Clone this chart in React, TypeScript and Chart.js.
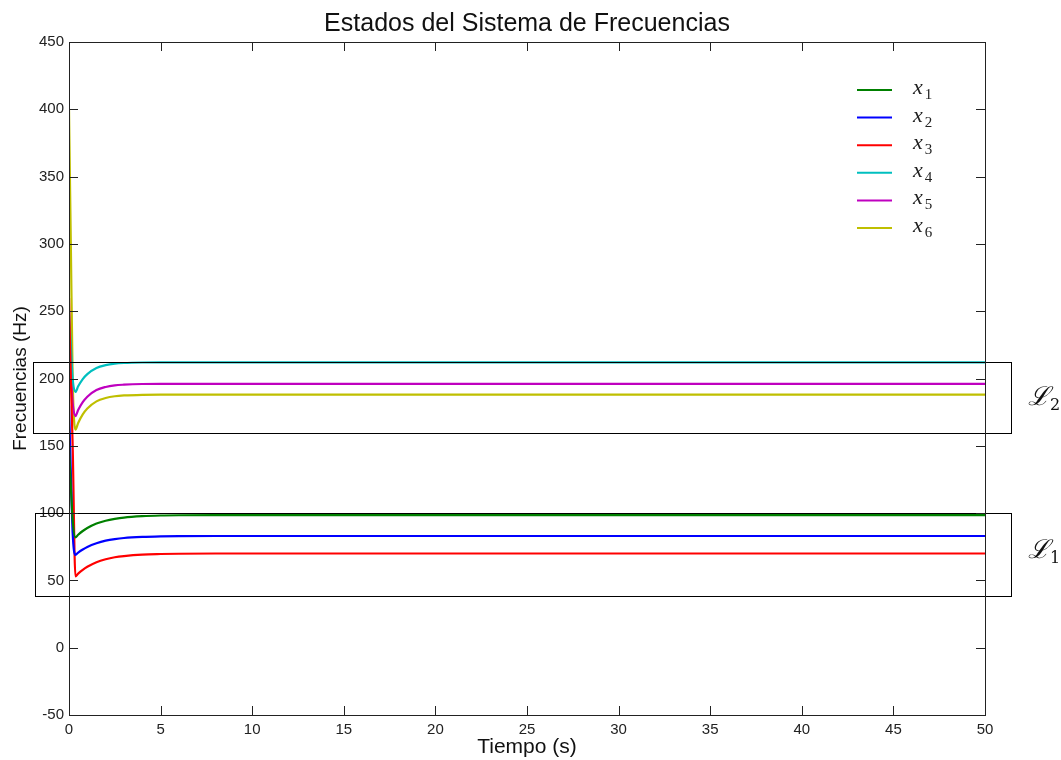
import React, { useEffect, useRef } from "react";
import { Chart, registerables } from "chart.js";

Chart.register(...registerables);

const times = [0, 0.1, 0.2, 0.35, 0.5, 0.75, 1, 1.5, 2, 2.5, 3, 4, 5, 6, 8, 10, 20, 30, 40, 50];
const x1 = [150, 120, 95, 82, 83.9, 86.7, 88.9, 92.2, 94.3, 95.7, 96.7, 97.7, 98.2, 98.4, 98.5, 98.5, 98.5, 98.5, 98.5, 98.5];
const x2 = [180, 130, 85, 69, 70.7, 73.0, 74.9, 77.6, 79.5, 80.7, 81.5, 82.3, 82.7, 82.9, 83, 83, 83, 83, 83, 83];
const x3 = [260, 200, 150, 53, 55.0, 57.8, 60.1, 63.5, 65.7, 67.2, 68.1, 69.2, 69.6, 69.8, 70, 70, 70, 70, 70, 70];
const x4 = [250, 225, 200, 190, 194.2, 199.6, 203.3, 207.8, 209.9, 211.0, 211.5, 211.9, 212, 212, 212, 212, 212, 212, 212, 212];
const x5 = [230, 205, 182, 172, 176.6, 182.4, 186.5, 191.4, 193.7, 194.9, 195.4, 195.9, 196, 196, 196, 196, 196, 196, 196, 196];
const x6 = [400, 300, 200, 162, 166.9, 173.3, 177.7, 183.0, 185.5, 186.8, 187.4, 187.9, 188, 188, 188, 188, 188, 188, 188, 188];

const seriesNames = ["1", "2", "3", "4", "5", "6"];
const seriesColors = ["#008000", "#0000ff", "#ff0000", "#00bfbf", "#bf00bf", "#bfbf00"];

const title = "Estados del Sistema de Frecuencias";
const xTitle = "Tiempo (s)";
const yTitle = "Frecuencias (Hz)";

// annotation boxes [xMin, xMax, yMin, yMax]
const boxL2 = [-1.97, 51.4, 160, 212.5];
const boxL1 = [-1.86, 51.42, 38.4, 99.9];
const boxLabels = ["2", "1"];
const boxLabelPos = [
  [53, 186],
  [53, 72.6],
];

export default function App() {
  const ref = useRef<HTMLCanvasElement | null>(null);
  useEffect(() => {
    document.body.style.margin = "0";
    const canvas = ref.current!;
    const all = [x1, x2, x3, x4, x5, x6];

    const framePlugin = {
      id: "frame",
      afterDatasetsDraw(chart: any) {
        const { ctx, chartArea: a, scales } = chart;
        const xs = scales.x;
        const ys = scales.y;
        ctx.save();
        // title
        ctx.fillStyle = "#111";
        ctx.textAlign = "center";
        ctx.textBaseline = "alphabetic";
        ctx.font = "25px 'Liberation Sans'";
        ctx.fillText(title, (a.left + a.right) / 2, 31);
        // boxes
        ctx.strokeStyle = "#000";
        ctx.lineWidth = 1;
        [boxL2, boxL1].forEach((b) => {
          const l = xs.getPixelForValue(b[0]);
          const r = xs.getPixelForValue(b[1]);
          const t = ys.getPixelForValue(b[3]);
          const bt = ys.getPixelForValue(b[2]);
          ctx.strokeRect(Math.round(l) + 0.5, Math.round(t) + 0.5, Math.round(r - l), Math.round(bt - t));
        });
        // box labels
        boxLabels.forEach((s, i) => {
          const px = xs.getPixelForValue(boxLabelPos[i][0]);
          const py = ys.getPixelForValue(boxLabelPos[i][1]);
          ctx.fillStyle = "#111";
          ctx.textBaseline = "alphabetic";
          ctx.textAlign = "left";
          ctx.font = "italic 26px 'DejaVu Serif'";
          ctx.fillText("ℒ", px - 12, py + 8);
          const w = ctx.measureText("ℒ").width;
          ctx.font = "16px 'DejaVu Serif'";
          ctx.fillText(s, px - 12 + w, py + 13);
        });
        // frame
        ctx.strokeStyle = "#222";
        ctx.strokeRect(a.left + 0.5, a.top + 0.5, a.right - a.left, a.bottom - a.top);
        // inward ticks
        const tl = 9;
        ctx.beginPath();
        ys.ticks.forEach((tk: any) => {
          const y = Math.round(ys.getPixelForValue(tk.value)) + 0.5;
          ctx.moveTo(a.left, y);
          ctx.lineTo(a.left + tl, y);
          ctx.moveTo(a.right, y);
          ctx.lineTo(a.right - tl, y);
        });
        xs.ticks.forEach((tk: any) => {
          const x = Math.round(xs.getPixelForValue(tk.value)) + 0.5;
          ctx.moveTo(x, a.bottom);
          ctx.lineTo(x, a.bottom - tl);
          ctx.moveTo(x, a.top);
          ctx.lineTo(x, a.top + tl);
        });
        ctx.stroke();
        // legend
        const lx0 = 857;
        const lx1 = 892;
        const ly0 = 90;
        const dy = 27.6;
        seriesNames.forEach((n, i) => {
          const y = ly0 + i * dy;
          ctx.strokeStyle = seriesColors[i];
          ctx.lineWidth = 2;
          ctx.beginPath();
          ctx.moveTo(lx0, y);
          ctx.lineTo(lx1, y);
          ctx.stroke();
          ctx.fillStyle = "#222";
          ctx.textAlign = "left";
          ctx.textBaseline = "alphabetic";
          ctx.font = "italic 22px 'Liberation Serif'";
          ctx.fillText("x", 913, y + 4);
          const w = ctx.measureText("x").width;
          ctx.font = "15px 'Liberation Serif'";
          ctx.fillText(n, 913 + w + 2, y + 9);
        });
        ctx.restore();
      },
    };

    const chart = new Chart(canvas, {
      type: "line",
      data: {
        labels: times,
        datasets: all.map((s, i) => ({
          label: "x" + seriesNames[i],
          data: s.map((v, j) => ({ x: times[j], y: v })),
          borderColor: seriesColors[i],
          backgroundColor: seriesColors[i],
          borderWidth: 2.2,
          pointRadius: 0,
          cubicInterpolationMode: "monotone" as const,
          fill: false,
        })),
      },
      options: {
        responsive: false,
        animation: false,
        layout: { padding: { left: 0, right: 76, top: 42, bottom: 0 } },
        plugins: {
          legend: { display: false },
          tooltip: { enabled: false },
          title: { display: false },
        },
        scales: {
          x: {
            type: "linear",
            min: 0,
            max: 50,
            grid: { display: false, drawTicks: false },
            border: { display: false },
            ticks: {
              stepSize: 5,
              autoSkip: false,
              maxRotation: 0,
              padding: 6,
              color: "#222",
              font: { family: "'Liberation Sans'", size: 15 },
            },
            title: {
              display: true,
              text: xTitle,
              color: "#111",
              font: { family: "'Liberation Sans'", size: 21 },
              padding: { top: 0, bottom: 0 },
            },
            afterFit: (s: any) => {
              s.height = 45;
            },
          },
          y: {
            type: "linear",
            min: -50,
            max: 450,
            grid: { display: false, drawTicks: false },
            border: { display: false },
            ticks: {
              stepSize: 50,
              autoSkip: false,
              padding: 5,
              color: "#222",
              font: { family: "'Liberation Sans'", size: 15 },
            },
            title: {
              display: true,
              text: yTitle,
              color: "#111",
              font: { family: "'Liberation Sans'", size: 19 },
              padding: { top: 9, bottom: 0 },
            },
            afterFit: (s: any) => {
              s.width = 69;
            },
          },
        },
      },
      plugins: [framePlugin],
    });
    return () => chart.destroy();
  }, []);
  return (
    <div style={{ width: 1061, height: 760, background: "#fff" }}>
      <canvas ref={ref} width={1061} height={760} style={{ display: "block" }} />
    </div>
  );
}
